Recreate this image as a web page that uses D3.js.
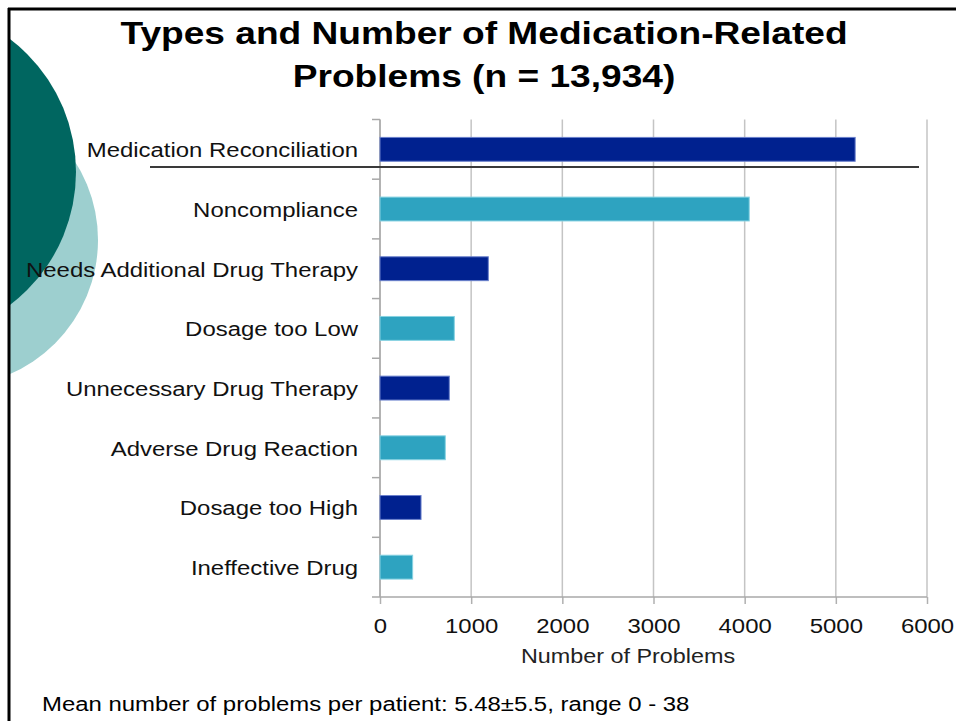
<!DOCTYPE html>
<html lang="en">
<head>
<meta charset="UTF-8">
<title>Medication-Related Problems</title>
<script src="https://d3js.org/d3.v7.min.js"></script>
<style>
  html, body { margin: 0; padding: 0; background: #fff; }
  svg text { font-family: "Liberation Sans", Arial, Helvetica, sans-serif; }
</style>
</head>
<body>
<svg></svg>
<script>
var categories = ["Medication Reconciliation", "Noncompliance", "Needs Additional Drug Therapy",
    "Dosage too Low", "Unnecessary Drug Therapy", "Adverse Drug Reaction",
    "Dosage too High", "Ineffective Drug"];
var counts = [5212, 4050, 1188, 815, 760, 716, 450, 358];
var xTicks = [0, 1000, 2000, 3000, 4000, 5000, 6000];
var titleLines = ["Types and Number of Medication-Related", "Problems (n = 13,934)"];
var xLabel = "Number of Problems";
var footnote = "Mean number of problems per patient: 5.48\u00b15.5, range 0 - 38";

var width = 956, height = 721;
var stretch = 1.14;  // slide text is a bit wider than Arial
var svg = d3.select("svg").attr("width", width).attr("height", height);

// put a text at (px,py) with a horizontal stretch around that point
function addText(parent, px, py, sx) {
    return parent.append("g")
        .attr("transform", "translate(" + px + "," + py + ") scale(" + sx + ",1)")
        .append("text");
}

// decorative circles, clipped at the frame
svg.append("clipPath").attr("id", "frameClip")
    .append("rect").attr("x", 9).attr("y", 9).attr("width", width).attr("height", height);
var deco = svg.append("g").attr("clip-path", "url(#frameClip)");
deco.append("circle").attr("cx", -48).attr("cy", 240).attr("r", 146).attr("fill", "#9dcfcf");
deco.append("circle").attr("cx", -91).attr("cy", 172).attr("r", 167).attr("fill", "#006660");

// frame lines
svg.append("line").attr("x1", 8).attr("x2", width).attr("y1", 9).attr("y2", 9)
    .attr("stroke", "#000").attr("stroke-width", 3);
svg.append("line").attr("x1", 9).attr("x2", 9).attr("y1", 8).attr("y2", height)
    .attr("stroke", "#000").attr("stroke-width", 3);

// title
titleLines.forEach(function (t, i) {
    addText(svg, 484, 44 + i * 43, 1.16)
        .attr("text-anchor", "middle")
        .attr("font-weight", "bold")
        .attr("font-size", 32)
        .text(t);
});

var x = d3.scaleLinear().domain([0, 6000]).range([380, 927]);
var y = d3.scaleBand().domain(categories).range([119.5, 597]).paddingInner(0.6).paddingOuter(0.3);

// vertical grid lines
svg.append("g").selectAll("line")
    .data(xTicks)
    .enter()
    .append("line")
    .attr("x1", function (d) { return x(d); })
    .attr("x2", function (d) { return x(d); })
    .attr("y1", 119.5)
    .attr("y2", 597)
    .attr("stroke", "#c4c4c4")
    .attr("stroke-width", 1.5);

// bottom axis
var xAxis = d3.axisBottom(x).tickValues(xTicks).tickFormat(d3.format("d"))
    .tickSize(7).tickSizeOuter(0).tickPadding(14);
var gx = svg.append("g").attr("transform", "translate(0,597)").call(xAxis);
gx.attr("font-family", null).attr("font-size", null);
gx.select(".domain").remove();
gx.selectAll(".tick line").attr("stroke", "#b0b0b0").attr("stroke-width", 1.5);
gx.selectAll(".tick text")
    .attr("font-size", 21)
    .attr("fill", "#111")
    .attr("transform", "scale(" + stretch + ",1)");
svg.append("line").attr("x1", 372).attr("x2", 927).attr("y1", 597).attr("y2", 597)
    .attr("stroke", "#a8a8a8").attr("stroke-width", 1.5);

// left axis: line and ticks on category boundaries
var half = y.step() / 2;
var bounds = categories.map(function (c) { return y(c) + y.bandwidth() / 2 - half; });
svg.append("line").attr("x1", 380).attr("x2", 380).attr("y1", 119.5).attr("y2", 597)
    .attr("stroke", "#a8a8a8").attr("stroke-width", 1.5);
svg.append("g").selectAll("line")
    .data(bounds)
    .enter()
    .append("line")
    .attr("x1", 372)
    .attr("x2", 380)
    .attr("y1", function (d) { return d; })
    .attr("y2", function (d) { return d; })
    .attr("stroke", "#a8a8a8")
    .attr("stroke-width", 1.5);

// bars
svg.append("g").selectAll("rect")
    .data(counts)
    .enter()
    .append("rect")
    .attr("x", x(0))
    .attr("y", function (d, i) { return y(categories[i]); })
    .attr("width", function (d) { return x(d) - x(0); })
    .attr("height", y.bandwidth())
    .attr("fill", function (d, i) { return i % 2 === 0 ? "#00218f" : "#2ea3c0"; })
    .attr("stroke", function (d, i) { return i % 2 === 0 ? "#6a80cc" : "#86d2e2"; })
    .attr("stroke-width", 1);

// category labels
var labels = svg.append("g");
categories.forEach(function (c) {
    addText(labels, 358, y(c) + y.bandwidth() / 2 + 8, stretch)
        .attr("text-anchor", "end")
        .attr("font-size", 21)
        .attr("fill", "#111")
        .text(c);
});

// separator line across the top row
svg.append("line").attr("x1", 150).attr("x2", 919).attr("y1", 167).attr("y2", 167)
    .attr("stroke", "#3a3a3a").attr("stroke-width", 2);

// axis title
addText(svg, 628, 663, stretch)
    .attr("text-anchor", "middle")
    .attr("font-size", 20.5)
    .attr("fill", "#222")
    .text(xLabel);

// footnote
addText(svg, 42, 711, stretch)
    .attr("font-size", 21)
    .attr("fill", "#000")
    .text(footnote);
</script>
</body>
</html>
